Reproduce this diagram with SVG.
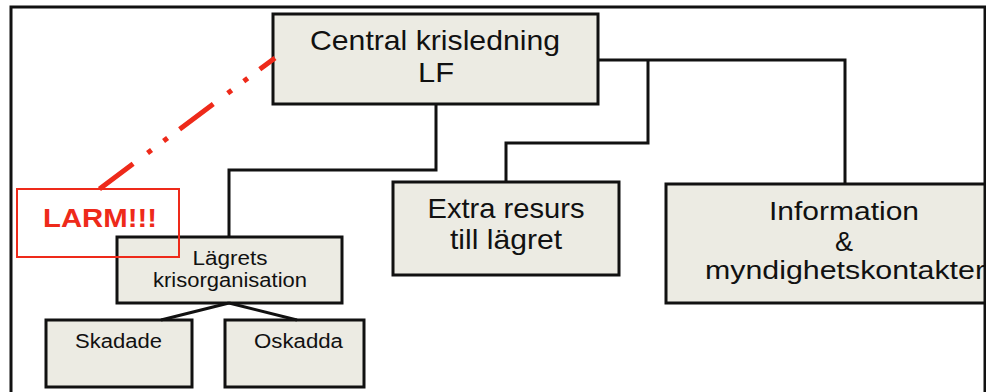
<svg xmlns="http://www.w3.org/2000/svg" width="986" height="392" viewBox="0 0 986 392">
<style>
.box{fill:#ecebe3;stroke:#111;stroke-width:3}
.con{fill:none;stroke:#111;stroke-width:3}
.t{font-family:"Liberation Sans",Arial,Helvetica,sans-serif;fill:#111;text-anchor:middle}
.larm{font-family:"Liberation Sans",Arial,Helvetica,sans-serif;font-weight:bold;fill:#ee2a1a;text-anchor:middle}
</style>
<rect x="0" y="0" width="986" height="392" fill="#fff"/>
<g id="central">
<rect class="box" x="273" y="14" width="325" height="90"/>
<text class="t" x="435" y="50" font-size="28" textLength="250" lengthAdjust="spacingAndGlyphs">Central krisledning</text>
<text class="t" x="436" y="82" font-size="28" textLength="36" lengthAdjust="spacingAndGlyphs">LF</text>
</g>
<g id="extra">
<rect class="box" x="393" y="182" width="226" height="93"/>
<text class="t" x="506" y="218" font-size="28" textLength="157" lengthAdjust="spacingAndGlyphs">Extra resurs</text>
<text class="t" x="506" y="249" font-size="28" textLength="112" lengthAdjust="spacingAndGlyphs">till lägret</text>
</g>
<g id="information">
<rect class="box" x="666" y="184" width="330" height="119"/>
<text class="t" x="844" y="220" font-size="25" textLength="150" lengthAdjust="spacingAndGlyphs">Information</text>
<text class="t" x="844" y="251" font-size="27">&amp;</text>
<text class="t" x="845" y="279" font-size="25" textLength="280" lengthAdjust="spacingAndGlyphs">myndighetskontakter</text>
</g>
<g id="lagrets">
<rect class="box" x="117" y="237" width="225" height="66"/>
<text class="t" x="230" y="265" font-size="20" textLength="75" lengthAdjust="spacingAndGlyphs">Lägrets</text>
<text class="t" x="230" y="287" font-size="20" textLength="154" lengthAdjust="spacingAndGlyphs">krisorganisation</text>
</g>
<g id="skadade">
<rect class="box" x="46" y="320" width="146" height="67"/>
<text class="t" x="118.5" y="348" font-size="20" textLength="87" lengthAdjust="spacingAndGlyphs">Skadade</text>
</g>
<g id="oskadda">
<rect class="box" x="225" y="320" width="139" height="67"/>
<text class="t" x="298.5" y="348" font-size="20" textLength="89" lengthAdjust="spacingAndGlyphs">Oskadda</text>
</g>
<g id="connectors">
<path class="con" d="M436,104 V170 H229 V237"/>
<path class="con" d="M598,60 H845 V184"/>
<path class="con" d="M648,60 V143 H506 V182"/>
<path class="con" d="M229,303 L161,320 M229,303 L297,320"/>
<line x1="275" y1="58" x2="98" y2="190" stroke="#ee2a1a" stroke-width="5" stroke-dasharray="42 15 5 15 5 18" stroke-dashoffset="23"/>
</g>
<g id="larm">
<rect x="17" y="189" width="162" height="68" fill="none" stroke="#ee2a1a" stroke-width="2"/>
<text class="larm" x="100" y="227" font-size="26" textLength="114" lengthAdjust="spacingAndGlyphs">LARM!!!</text>
</g>
<path id="frame" d="M11,392 V7 H985 V392" fill="none" stroke="#111" stroke-width="3"/>
</svg>
